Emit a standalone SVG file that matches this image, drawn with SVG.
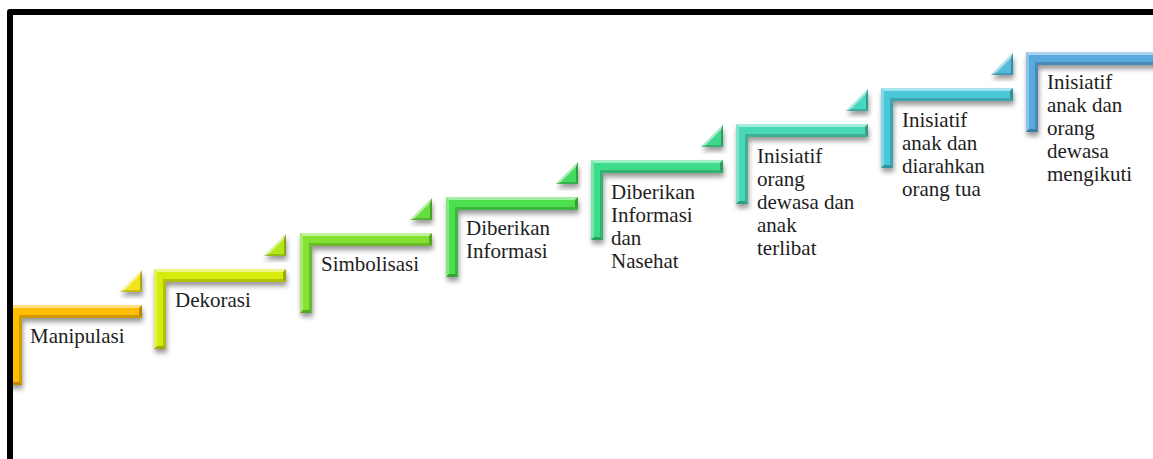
<svg xmlns="http://www.w3.org/2000/svg" xmlns:xlink="http://www.w3.org/1999/xlink" width="1153" height="459" viewBox="0 0 1153 459">
<style>
.lbl{font-family:"Liberation Serif","Times New Roman",serif;font-size:21px;fill:#1e1e1e}
.lt{fill:#ffffff;opacity:.5}
.ls{fill:#ffffff;opacity:.3}
.dk{fill:#000000;opacity:.18}
.dk2{fill:#000000;opacity:.28}
.sh{filter:url(#shadow)}
.frame{fill:none;stroke:#000;stroke-width:6;stroke-linejoin:round}
</style>
<defs>
<filter id="shadow" x="-10%" y="-10%" width="130%" height="140%">
<feDropShadow dx="1" dy="4" stdDeviation="2.5" flood-color="#000" flood-opacity="0.4"/>
</filter>
<path id="L" d="M0,0 H132 V13 H12 V80 H0 Z"/>
<g id="bev">
<path class="lt" d="M0,0 H132 L129,3 H3 Z"/>
<path class="ls" d="M0,0 L3,3 V77 L0,80 Z"/>
<path class="dk" d="M9,10 H129 L132,13 H12 Z"/>
<path class="dk2" d="M132,0 V13 L129,10 V3 Z"/>
<path class="dk" d="M9,10 L12,13 V80 L9,77 Z"/>
<path class="dk2" d="M0,80 H12 L9,77 H3 Z"/>
</g>
<path id="T" d="M-22,0 H0 V-22 Z"/>
<g id="tbev">
<path class="lt" d="M-22,0 L0,-22 L-1,-18 L-18,-1 Z"/>
<path class="dk2" d="M0,-22 V0 L-2,-2 V-18 Z"/>
<path class="dk" d="M-22,0 H0 L-2,-2 H-18 Z"/>
</g>
</defs>

<g id="connectors">
<g transform="translate(142,292)"><use xlink:href="#T" class="sh" fill="#F2E41C"/><use xlink:href="#tbev"/></g>
<g transform="translate(286,256)"><use xlink:href="#T" class="sh" fill="#B4E61E"/><use xlink:href="#tbev"/></g>
<g transform="translate(432,220)"><use xlink:href="#T" class="sh" fill="#66DE3E"/><use xlink:href="#tbev"/></g>
<g transform="translate(578,184)"><use xlink:href="#T" class="sh" fill="#44DA5E"/><use xlink:href="#tbev"/></g>
<g transform="translate(723,147)"><use xlink:href="#T" class="sh" fill="#3ED88E"/><use xlink:href="#tbev"/></g>
<g transform="translate(868,111)"><use xlink:href="#T" class="sh" fill="#46D6C0"/><use xlink:href="#tbev"/></g>
<g transform="translate(1013,75)"><use xlink:href="#T" class="sh" fill="#52BCDA"/><use xlink:href="#tbev"/></g>
</g>

<g id="step1">
<g transform="translate(10,305)"><use xlink:href="#L" class="sh" fill="#FFBE00"/><use xlink:href="#bev"/></g>
<text class="lbl" x="30" y="343">Manipulasi</text>
</g>
<g id="step2">
<g transform="translate(154,269)"><use xlink:href="#L" class="sh" fill="#D6EC0E"/><use xlink:href="#bev"/></g>
<text class="lbl" x="175" y="307">Dekorasi</text>
</g>
<g id="step3">
<g transform="translate(300,233)"><use xlink:href="#L" class="sh" fill="#84E232"/><use xlink:href="#bev"/></g>
<text class="lbl" x="321" y="271">Simbolisasi</text>
</g>
<g id="step4">
<g transform="translate(446,197)"><use xlink:href="#L" class="sh" fill="#4EE04E"/><use xlink:href="#bev"/></g>
<text class="lbl" x="466" y="235">Diberikan<tspan x="466" dy="23">Informasi</tspan></text>
</g>
<g id="step5">
<g transform="translate(591,160)"><use xlink:href="#L" class="sh" fill="#3CDC8A"/><use xlink:href="#bev"/></g>
<text class="lbl" x="611" y="199">Diberikan<tspan x="611" dy="23">Informasi</tspan><tspan x="611" dy="23">dan</tspan><tspan x="611" dy="23">Nasehat</tspan></text>
</g>
<g id="step6">
<g transform="translate(736,124)"><use xlink:href="#L" class="sh" fill="#4AD8B6"/><use xlink:href="#bev"/></g>
<text class="lbl" x="757" y="163">Inisiatif<tspan x="757" dy="23">orang</tspan><tspan x="757" dy="23">dewasa dan</tspan><tspan x="757" dy="23">anak</tspan><tspan x="757" dy="23">terlibat</tspan></text>
</g>
<g id="step7">
<g transform="translate(881,88)"><use xlink:href="#L" class="sh" fill="#4CC8D8"/><use xlink:href="#bev"/></g>
<text class="lbl" x="902" y="127">Inisiatif<tspan x="902" dy="23">anak dan</tspan><tspan x="902" dy="23">diarahkan</tspan><tspan x="902" dy="23">orang tua</tspan></text>
</g>
<g id="step8">
<g transform="translate(1026,52)"><use xlink:href="#L" class="sh" fill="#5AAADE"/><use xlink:href="#bev"/></g>
<text class="lbl" x="1047" y="89">Inisiatif<tspan x="1047" dy="23">anak dan</tspan><tspan x="1047" dy="23">orang</tspan><tspan x="1047" dy="23">dewasa</tspan><tspan x="1047" dy="23">mengikuti</tspan></text>
</g>

<path class="frame" d="M10,462 V12 H1156"/>
</svg>
